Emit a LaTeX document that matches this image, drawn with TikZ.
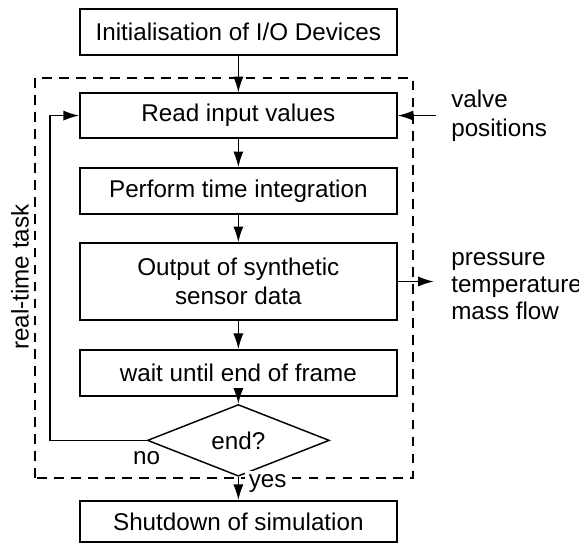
\documentclass[tikz,border=0pt]{standalone}
\usepackage{fontspec}
\setmainfont{Liberation Sans}
\usetikzlibrary{shapes.geometric,arrows.meta}
\begin{document}
\begin{tikzpicture}[x=1cm,y=1cm,
  box/.style={draw,line width=0.6pt,minimum width=4.6cm,minimum height=0.667cm,align=center},
  decision/.style={draw,diamond,line width=0.6pt,minimum width=2.64cm,minimum height=0.65cm,inner sep=0pt},
  flow/.style={line width=0.6pt,-{Latex[length=6.5pt,width=4.2pt]}},
  frame/.style={line width=0.6pt,dash pattern=on 4pt off 3pt}]
  \useasboundingbox (0,0) rectangle (8.40,7.89);
  \draw[frame] (0.508,0.957) rectangle (5.989,6.757);
  \draw (0.29,3.87) node[rotate=90] (rt) {real-time task};
  % main chain
  \node[box] (init) at (3.458,7.424) {Initialisation of I/O Devices};
  \node[box,minimum height=0.65cm] (read) at (3.458,6.213) {Read input values};
  \node[box] (integrate) at (3.458,5.119) {Perform time integration};
  \node[box,minimum height=1.117cm] (output) at (3.458,3.806) {Output of synthetic\\sensor data};
  \node[box] (wait) at (3.458,2.480) {wait until end of frame};
  \node[decision] (decide) at (3.458,1.501) {end?};
  \node[box,minimum height=0.595cm] (shutdown) at (3.458,0.326) {Shutdown of simulation};
  \draw[flow] (init) -- (read);
  \draw[flow] (read) -- (integrate);
  \draw[flow] (integrate) -- (output);
  \draw[flow] (output) -- (wait);
  \draw[flow] (wait) -- (decide);
  \draw[flow] (decide.south) -- node[right,fill=white,xshift=2.5pt,yshift=2pt,inner sep=1.5pt] (yes) {yes} (shutdown.north);
  % loop back
  \coordinate (back) at (0.725,1.501);
  \draw[flow] (decide.west) -- (back) |- (read.west);
  \draw (decide.west) node[below,yshift=-1pt] (no) {no};
  % inputs and outputs
  \node[anchor=west,align=left,inner sep=0pt] (valve) at (6.54,6.213) {valve\\positions};
  \node[anchor=west,align=left,inner sep=0pt,font=\fontsize{10}{11}\selectfont] (sensors) at (6.54,3.74) {pressure\\temperature\\mass flow};
  \draw[flow] ([xshift=-6pt]valve.west) -- (read.east);
  \draw[flow] (output.east) -- ([xshift=-7pt]sensors.west |- output.east);
\end{tikzpicture}
\end{document}
